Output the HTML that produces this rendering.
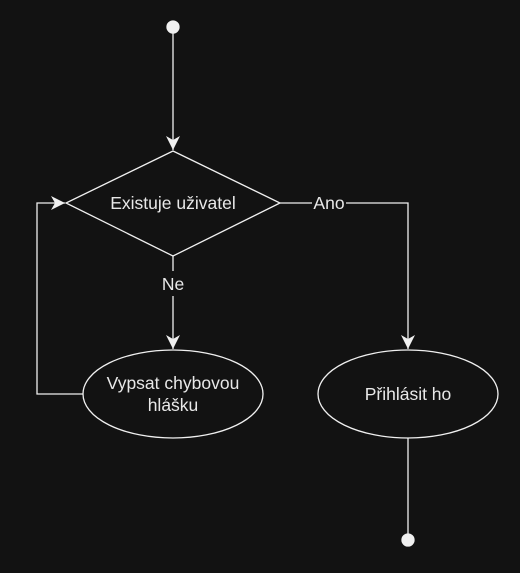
<!DOCTYPE html>
<html><head><style>html,body{margin:0;padding:0;background:#121212;}svg{display:block}</style></head>
<body>
<svg width="520" height="573" viewBox="0 0 520 573" xmlns="http://www.w3.org/2000/svg">
<defs><marker id="a" markerWidth="16" markerHeight="16" refX="14" refY="7" orient="auto" markerUnits="userSpaceOnUse"><path d="M0,0 L14,7 L0,14 L4,7 Z" fill="#f0f0f0"/></marker></defs>
<rect width="520" height="573" fill="#121212"/>
<g stroke="#f0f0f0" stroke-width="1.3" fill="none">
<circle cx="173" cy="27" r="6" fill="#f0f0f0"/>
<line x1="173" y1="33" x2="173" y2="150" marker-end="url(#a)"/>
<polygon points="173,151 280,203 173,256 66,203" fill="#121212"/>
<line x1="173" y1="256" x2="173" y2="271"/>
<line x1="173" y1="296" x2="173" y2="349" marker-end="url(#a)"/>
<ellipse cx="173" cy="394" rx="90" ry="44" fill="#121212"/>
<polyline points="83,394 37,394 37,203 65,203" marker-end="url(#a)"/>
<polyline points="280,203 312,203"/>
<polyline points="346,203 408,203 408,349" marker-end="url(#a)"/>
<ellipse cx="408" cy="394" rx="90" ry="44" fill="#121212"/>
<line x1="408" y1="438" x2="408" y2="534"/>
<circle cx="408" cy="540" r="6" fill="#f0f0f0"/>
</g>
<g fill="#e8e8e8" font-family="Liberation Sans, sans-serif" font-size="17.5" text-anchor="middle">
<text x="173" y="209">Existuje uživatel</text>
<text x="173" y="290">Ne</text>
<text x="329" y="209">Ano</text>
<text x="173" y="389">Vypsat chybovou</text>
<text x="173" y="411">hlášku</text>
<text x="408" y="400">Přihlásit ho</text>
</g>
</svg>
</body></html>
